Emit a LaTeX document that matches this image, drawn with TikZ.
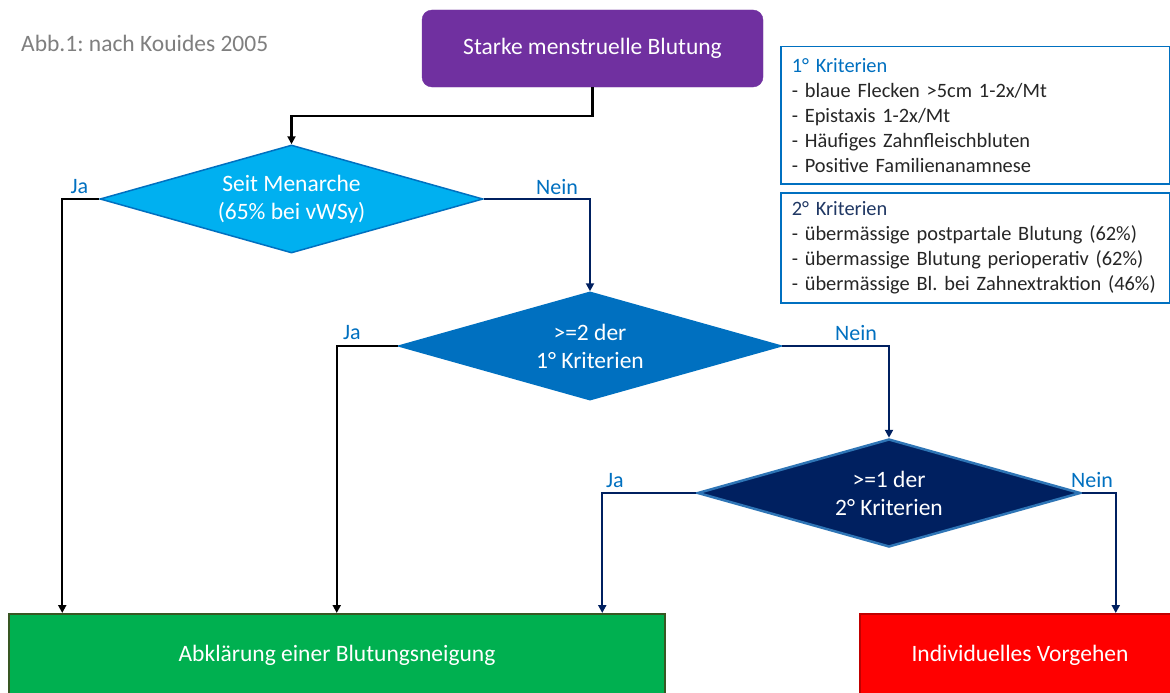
\documentclass[tikz,border=0pt]{standalone}
\usepackage{fontspec}
\setmainfont{Carlito}
\usetikzlibrary{shapes.geometric,arrows.meta}
\definecolor{purp}{HTML}{7030A0}
\definecolor{cyanb}{HTML}{00B0F0}
\definecolor{midb}{HTML}{0070C0}
\definecolor{navy}{HTML}{002060}
\definecolor{ltb}{HTML}{2E75B6}
\definecolor{grn}{HTML}{00B050}
\definecolor{grnb}{HTML}{385723}
\definecolor{rd}{HTML}{FF0000}
\definecolor{rdb}{HTML}{C00000}
\definecolor{gry}{HTML}{7F7F7F}
\definecolor{titleb}{HTML}{203864}
\definecolor{bodyt}{HTML}{262626}
\frenchspacing
\begin{document}
\begin{tikzpicture}[x=1pt,y=-1pt,
  bigtxt/.style={font=\fontsize{23.5}{28}\selectfont},
  dec/.style={shape=diamond, aspect=3.546, minimum width=383pt, minimum height=108pt,
    inner sep=0pt, text=white, align=center, bigtxt, line width=1.5pt},
  lbl/.style={font=\fontsize{22}{26}\selectfont, text=midb, inner sep=0pt},
  crit/.style={draw=midb, line width=1.5pt, anchor=north west, text width=367pt,
    align=left, inner xsep=11pt, inner ysep=2pt, font=\fontsize{20.4}{25}\selectfont, text=bodyt},
  blk/.style={draw=black, line width=2.2pt, -{Triangle[length=8pt,width=8pt]}},
  nvy/.style={draw=navy, line width=2.2pt, -{Triangle[length=8pt,width=8pt]}},
  endbox/.style={line width=1.5pt, minimum height=84pt, text=white, bigtxt, anchor=north}
]
\fill[white] (0,0) rectangle (1170,693);
\useasboundingbox (0,0) rectangle (1170,693);

\node[anchor=west, text=gry, bigtxt, inner sep=0pt] (abb) at (21,43) {Abb.1: nach Kouides 2005};

\node[draw=purp, fill=purp, rounded corners=10pt, minimum width=341pt, minimum height=77pt,
  text=white, bigtxt] (top) at (592.5,48.5) {Starke menstruelle Blutung};

\node[dec, fill=cyanb, draw=midb] (d1) at (291.5,199) {Seit Menarche\\(65\% bei vWSy)};
\node[dec, fill=midb, draw=midb] (d2) at (590,346) {>=2 der\\1° Kriterien};
\node[dec, fill=navy, draw=ltb, line width=2.5pt] (d3) at (889,493) {>=1 der\\2° Kriterien};

\node[endbox, fill=grn, draw=grnb, minimum width=656pt] (green) at (337,613) {Abklärung einer Blutungsneigung};
\node[endbox, fill=rd, draw=rdb, minimum width=320pt] (red) at (1020,613) {Individuelles Vorgehen};

\node[crit, minimum height=137pt] (k1) at (780,46) {\mbox{\textcolor{midb}{1° Kriterien}}\\
\mbox{- blaue Flecken >5cm 1-2x/Mt}\\
\mbox{- Epistaxis 1-2x/Mt}\\
\mbox{- Häufiges Zahnfleischbluten}\\
\mbox{- Positive Familienanamnese}};
\node[crit, minimum height=110pt] (k2) at (780,192) {\mbox{\textcolor{titleb}{2° Kriterien}}\\
\mbox{- übermässige postpartale Blutung (62\%)}\\
\mbox{- übermassige Blutung perioperativ (62\%)}\\
\mbox{- übermässige Bl. bei Zahnextraktion (46\%)}};

\node[lbl] (ja1) at (79.5,187) {Ja};
\node[lbl] (nein1) at (557,187) {Nein};
\node[lbl] (ja2) at (352,333) {Ja};
\node[lbl] (nein2) at (856,333) {Nein};
\node[lbl] (ja3) at (615,481) {Ja};
\node[lbl] (nein3) at (1092,480) {Nein};

\draw[blk] (top.south) -- ++(0,29) -| (d1.north);
\draw[blk] (d1.west) -- ++(-37,0) coordinate (c1) -- (c1 |- green.north);
\draw[nvy] (d1.east) -| (d2.north);
\draw[blk] (d2.west) -- ++(-61,0) coordinate (c2) -- (c2 |- green.north);
\draw[nvy] (d2.east) -| (d3.north);
\draw[nvy] (d3.west) -- ++(-94,0) coordinate (c3) -- (c3 |- green.north);
\draw[nvy] (d3.east) -- ++(34,0) coordinate (c4) -- (c4 |- red.north);
\end{tikzpicture}
\end{document}
